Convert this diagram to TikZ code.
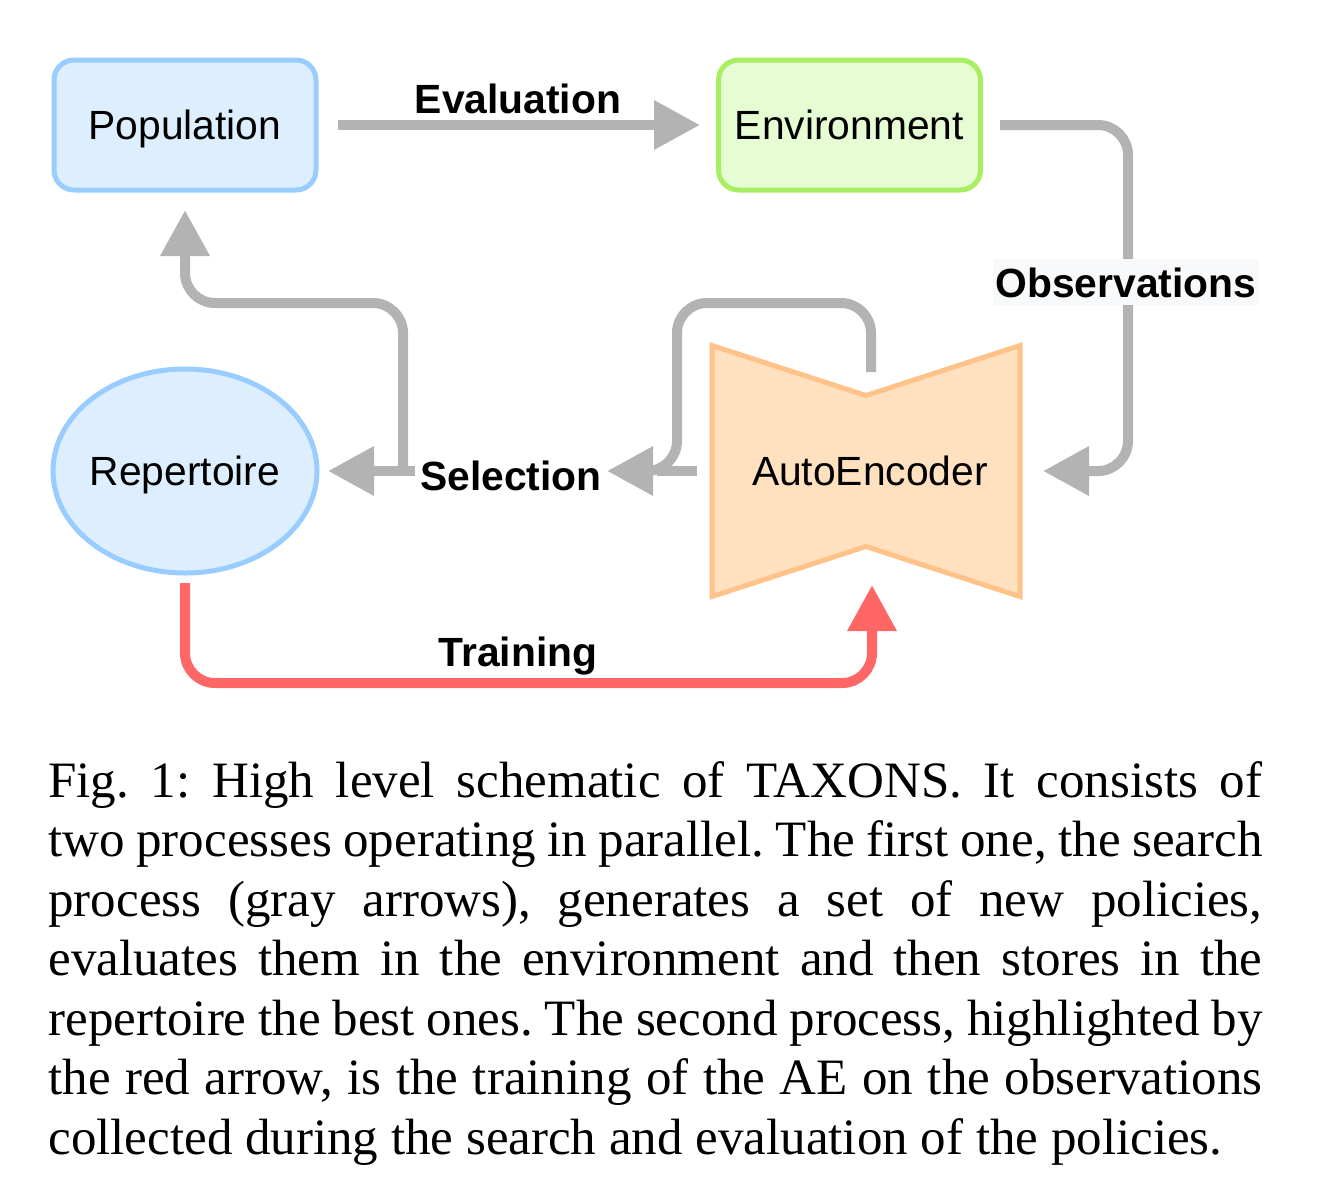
\documentclass[tikz,border=0pt]{standalone}
\usepackage{fontspec}
\setmainfont{Liberation Serif}
\setsansfont{Liberation Sans}
\usetikzlibrary{arrows.meta,shapes.geometric}

\definecolor{popline}{HTML}{99CCFF}
\definecolor{popfill}{HTML}{DDEFFE}
\definecolor{envline}{HTML}{A9EE62}
\definecolor{envfill}{HTML}{E6FCD3}
\definecolor{aeline}{HTML}{FFC38A}
\definecolor{aefill}{HTML}{FFE1BF}
\definecolor{flowgray}{HTML}{B3B3B3}
\definecolor{flowred}{HTML}{FF6666}
\definecolor{obsbg}{HTML}{F8F9FA}

\tikzset{
  diagfont/.style={font=\sffamily\fontsize{20.4}{24}\selectfont, text depth=0pt},
  box/.style={diagfont, draw, line width=2.5pt, rounded corners=10pt,
    minimum width=131pt, minimum height=65pt},
  lab/.style={font=\sffamily\bfseries\fontsize{20.4}{24}\selectfont, inner sep=0pt},
  flow/.style={draw=flowgray, line width=5pt, -{Triangle[length=23pt,width=23.5pt]}},
  flowline/.style={draw=flowgray, line width=5pt},
  redflow/.style={flow, draw=flowred},
}

\begin{document}
\begin{tikzpicture}[x=0.5pt,y=-0.5pt]
\useasboundingbox (0,0) rectangle (1318,1185);

% boxes
\node[box, draw=popline, fill=popfill] (pop) at (185,125) {Population};
\node[box, draw=envline, fill=envfill] (env) at (849.5,125) {Environment};
\node[diagfont, ellipse, draw=popline, fill=popfill, line width=2.5pt, inner xsep=-2pt,
  minimum width=132pt, minimum height=102pt] (rep) at (185,471) {Repertoire};
\node[minimum width=154pt, minimum height=125.5pt, inner sep=0pt, outer sep=0pt] (ae) at (866,471) {};
\draw[draw=aeline, fill=aefill, line width=2.5pt] (ae.north west) -- ([yshift=-25pt]ae.north)
  -- (ae.north east) -- (ae.south east) -- ([yshift=25pt]ae.south) -- (ae.south west) -- cycle;
\node[diagfont] (aetext) at (870,471) {AutoEncoder};

% end points on the arrows
\coordinate (aetop) at (871,372);
\coordinate (aebot) at (872,585);
\coordinate (selR) at (697,471);
\coordinate (selRj) at (677,471);
\coordinate (selL) at (415,471);
\coordinate (selLj) at (403,471);

% evaluation
\draw[flow, shorten <=9.5pt, shorten >=8pt] (pop.east) -- (env.west);
\node[lab, anchor=base] (evallab) at (518,113) {Evaluation};

% observations
\draw[flow, rounded corners=15pt, shorten <=8.5pt] (env.east) -| ([xshift=54pt]ae.east) -- ([xshift=11.5pt]ae.east);
\node[lab, fill=obsbg, inner xsep=1.5pt, inner ysep=4pt, anchor=base] (obslab) at (1126,297) {Observations};

% selection
\node[lab, anchor=base, inner xsep=2.5pt] (sellab) at (511,490) {Selection};
\draw[flowline] (selR) -- ([xshift=-10pt]selRj);
\draw[flow, rounded corners=15pt] (aetop) |- (selRj |- 0,303) -- (selRj) -- (sellab.east |- selR);
\draw[flow, shorten >=4.25pt] (selL) -- (rep.east);
\draw[flow, rounded corners=15pt] (selLj) |- (pop.south |- 0,303) -- ([yshift=-8.75pt]pop.south);

% training
\draw[redflow, rounded corners=15pt] ([yshift=-3.75pt]rep.south) |- (aebot |- 0,683) -- (aebot);
\node[lab, anchor=base] (trainlab) at (518,666) {Training};

% caption
\node[anchor=north west, inner sep=0pt, text width=607pt, align=justify,
  font=\frenchspacing\fontsize{25.5}{29.75}\selectfont] (caption) at (48,761)
  {Fig. 1: High level schematic of TAXONS. It consists of\linebreak
   two processes operating in parallel. The first one, the search\linebreak
   process (gray arrows), generates a set of new policies,\linebreak
   evaluates them in the environment and then stores in the\linebreak
   repertoire the best ones. The second process, highlighted by\linebreak
   the red arrow, is the training of the AE on the observations\linebreak
   collected during the search and evaluation of the policies.};
\end{tikzpicture}
\end{document}
